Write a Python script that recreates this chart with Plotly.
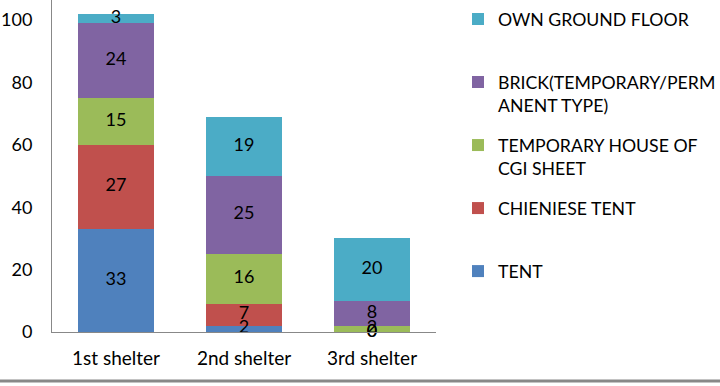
import plotly.graph_objects as go

categories = ["1st shelter", "2nd shelter", "3rd shelter"]
series_names = ["TENT", "CHIENIESE TENT", "TEMPORARY HOUSE OF<br>CGI SHEET",
                "BRICK(TEMPORARY/PERM<br>ANENT TYPE)", "OWN GROUND FLOOR"]
tent = [33, 2, 0]
chinese_tent = [27, 7, 0]
temporary_cgi = [15, 16, 2]
brick = [24, 25, 8]
own_ground = [3, 19, 20]
y_ticks = [0, 20, 40, 60, 80, 100]

series_values = [tent, chinese_tent, temporary_cgi, brick, own_ground]
colors = ["#4F81BD", "#C0504D", "#9BBB59", "#8064A2", "#4BACC6"]
FONT = "Lato"

fig = go.Figure()
n = len(series_names)
for i, (name, vals, col) in enumerate(zip(series_names, series_values, colors)):
    legend_name = name if "<br>" in name else name + "<br> "
    fig.add_trace(go.Bar(
        x=categories, y=vals, name=legend_name, marker=dict(color=col, line=dict(width=0)),
        legendgroup=f"g{i}", legendrank=n - i, width=0.6,
    ))

# data labels at segment centers
base = [0] * len(categories)
for vals in series_values:
    mids = [b + v / 2 for b, v in zip(base, vals)]
    fig.add_trace(go.Scatter(
        x=categories, y=mids, mode="text", text=[str(v) for v in vals],
        textfont=dict(family=FONT, size=18, color="#000000"),
        showlegend=False, hoverinfo="skip", cliponaxis=False,
    ))
    base = [b + v for b, v in zip(base, vals)]

fig.update_layout(
    width=720, height=386, barmode="stack",
    margin=dict(l=52, r=284, t=0, b=54),
    paper_bgcolor="white", plot_bgcolor="white",
    font=dict(family=FONT, size=18, color="#000000"),
    bargap=0.4,
    legend=dict(
        x=458 / 720, xref="container", xanchor="left",
        y=1 - 1 / 386, yref="container", yanchor="top",
        traceorder="grouped", tracegroupgap=14, valign="top",
        font=dict(family=FONT, size=17.7, color="#000000"),
        itemwidth=30, maxheight=1,
    ),
    xaxis=dict(showline=True, linecolor="#888888", linewidth=1, ticks="",
               showgrid=False, tickfont=dict(size=19), automargin=False,
               ticklabelstandoff=9),
    yaxis=dict(range=[0, 106.4], tickvals=y_ticks, showline=True, linecolor="#888888",
               linewidth=1, showgrid=False, ticks="", tickfont=dict(size=18),
               ticklabelstandoff=15, zeroline=False, automargin=False),
    shapes=[dict(type="line", xref="paper", yref="paper",
                 x0=-52 / 384, x1=(720 - 52) / 384, y0=-49 / 332, y1=-49 / 332,
                 line=dict(color="#888888", width=3))],
)

fig.write_html("out.html", config={"displayModeBar": False},
               post_script="document.body.style.margin='0';")
